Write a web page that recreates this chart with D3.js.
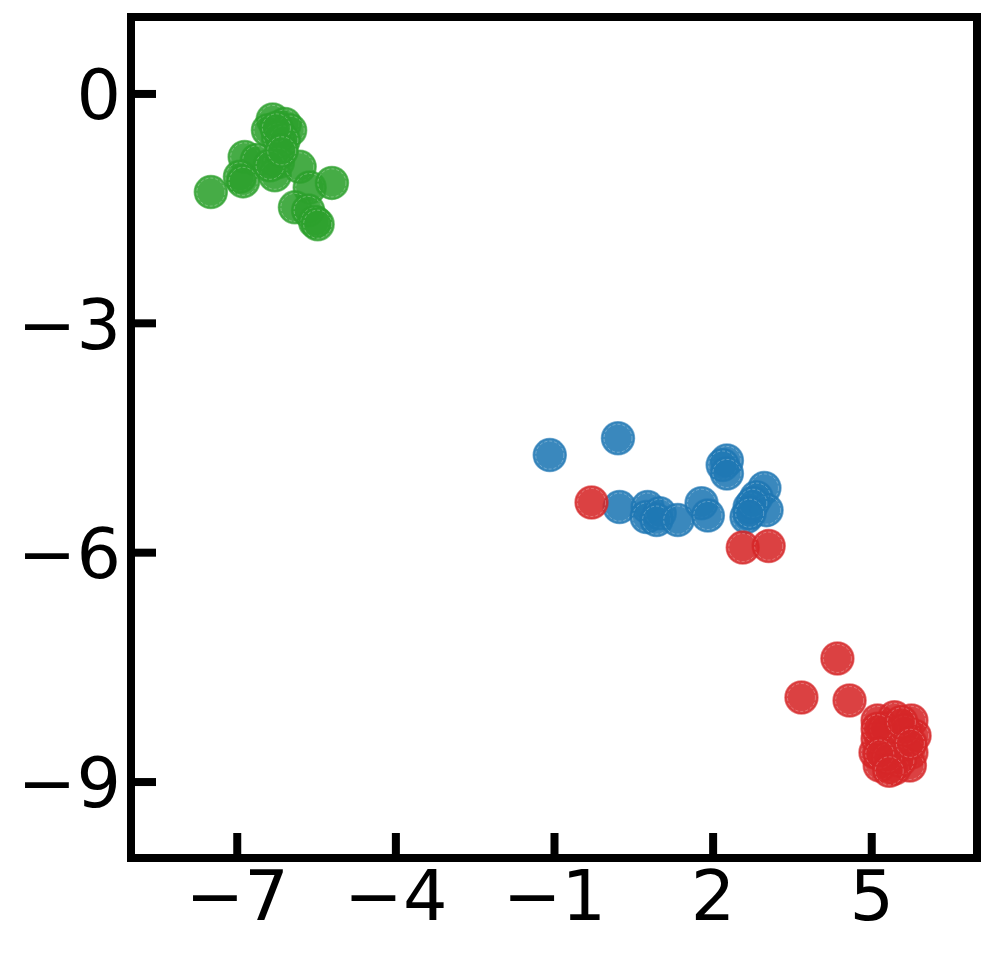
<!DOCTYPE html>
<html>
<head>
<meta charset="utf-8">
<script src="https://cdn.jsdelivr.net/npm/d3@7"></script>
<style>
  body { margin: 0; background: #fff; }
  .tick text { font-family: "DejaVu Sans", sans-serif; font-size: 70px; fill: #000; }
</style>
</head>
<body>
<div id="graphic"></div>
<script>
var xTicks = [-7, -4, -1, 2, 5];
var yTicks = [0, -3, -6, -9];

var greenX = [-7.49, -6.32, -6.09, -6.41, -5.99, -6.22, -6.11, -6.85, -6.62, -6.94, -6.88, -6.22, -6.28, -5.81, -5.62, -5.20, -5.90, -5.65, -5.52, -5.47, -6.37, -6.25, -6.15];
var greenY = [-1.29, -0.34, -0.40, -0.48, -0.48, -0.58, -0.61, -0.83, -0.87, -1.09, -1.15, -0.90, -1.07, -0.96, -1.23, -1.17, -1.49, -1.53, -1.68, -1.71, -0.94, -0.45, -0.75];

var blueX = [-1.08, 0.21, 0.24, 0.77, 0.75, 1.00, 0.94, 1.34, 1.79, 1.91, 2.27, 2.19, 2.27, 2.98, 2.83, 2.70, 3.02, 2.64, 2.76, 2.70];
var blueY = [-4.73, -4.51, -5.41, -5.41, -5.54, -5.49, -5.58, -5.58, -5.36, -5.52, -4.80, -4.86, -4.97, -5.16, -5.28, -5.41, -5.45, -5.54, -5.36, -5.49];

var redX = [-0.29, 2.57, 3.06, 4.36, 3.68, 4.59, 5.12, 5.44, 5.76, 5.82, 5.76, 5.73, 5.44, 5.16, 5.08, 5.12, 5.25, 5.63, 5.54, 5.31, 5.12, 5.16, 5.57, 5.34, 5.74];
var redY = [-5.35, -5.94, -5.92, -7.39, -7.90, -7.94, -8.20, -8.16, -8.20, -8.40, -8.62, -8.79, -8.83, -8.79, -8.62, -8.44, -8.31, -8.33, -8.73, -8.69, -8.31, -8.64, -8.22, -8.86, -8.50];

var width = 996;
var height = 955;
var plotLeft = 131, plotRight = 977, plotTop = 17, plotBottom = 858;
var radius = 16.5;

var svg = d3.select("#graphic")
  .append("svg")
  .attr("width", width)
  .attr("height", height);

var xScale = d3.scaleLinear().domain([-9, 7]).range([plotLeft, plotRight]);
var yScale = d3.scaleLinear().domain([-10, 1]).range([plotBottom, plotTop]);

var fmt = function(d) { return d < 0 ? "\u2212" + Math.abs(d) : String(d); };

function drawSeries(xs, ys, color) {
  var pts = xs.map(function(x, i) { return { x: x, y: ys[i] }; });
  var g = svg.append("g");
  var dots = g.selectAll("g").data(pts).enter().append("g")
    .attr("transform", function(d) { return "translate(" + xScale(d.x) + "," + yScale(d.y) + ")"; });
  dots.append("circle")
    .attr("r", radius)
    .attr("fill", color)
    .attr("fill-opacity", 0.88)
    .attr("stroke", color)
    .attr("stroke-opacity", 0.6)
    .attr("stroke-width", 1.5);
  dots.append("circle")
    .attr("r", radius - 2.5)
    .attr("fill", "none")
    .attr("stroke", "#fff")
    .attr("stroke-opacity", 0.35)
    .attr("stroke-width", 0.8)
    .attr("stroke-dasharray", "3,2");
}

drawSeries(greenX, greenY, "#2ca02c");
drawSeries(blueX, blueY, "#1f77b4");
drawSeries(redX, redY, "#d62728");

var xAxis = d3.axisBottom(xScale)
  .tickValues(xTicks)
  .tickFormat(fmt)
  .tickSizeInner(-25)
  .tickSizeOuter(0)
  .tickPadding(12);

var yAxis = d3.axisLeft(yScale)
  .tickValues(yTicks)
  .tickFormat(fmt)
  .tickSizeInner(-25)
  .tickSizeOuter(0)
  .tickPadding(10);

var gx = svg.append("g")
  .attr("transform", "translate(0," + plotBottom + ")")
  .call(xAxis);
var gy = svg.append("g")
  .attr("transform", "translate(" + plotLeft + ",0)")
  .call(yAxis);

[gx, gy].forEach(function(g) {
  g.select(".domain").remove();
  g.selectAll(".tick line").attr("stroke", "#000").attr("stroke-width", 8);
  g.attr("font-family", null).attr("font-size", null);
});
gy.selectAll(".tick text").attr("dy", "0.36em");

svg.append("rect")
  .attr("x", plotLeft)
  .attr("y", plotTop)
  .attr("width", plotRight - plotLeft)
  .attr("height", plotBottom - plotTop)
  .attr("fill", "none")
  .attr("stroke", "#000")
  .attr("stroke-width", 8);
</script>
</body>
</html>
